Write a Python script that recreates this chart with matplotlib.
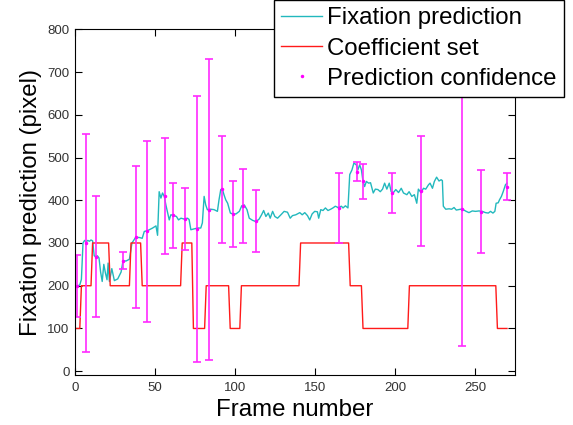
import numpy as np
import matplotlib.pyplot as plt

plt.rcParams["font.family"] = ["Liberation Sans", "DejaVu Sans"]

# Coefficient set in use per frame, stored as (level, number of frames) runs
coef_levels = [100, 200, 300, 200, 300, 200, 300, 100, 200, 100, 200, 300, 200, 100, 200, 100]
coef_runs = [3, 7, 11, 13, 7, 25, 7, 8, 15, 7, 37, 31, 8, 29, 55, 7]

# Fixation prediction
fix_frames = [
    1, 2, 3, 4, 5, 6, 7, 8, 9, 10, 11, 12, 13, 14, 15, 16, 17, 18, 19, 20,
    20.7, 21.5, 23, 24.6, 26.7, 28.8, 30, 32, 34, 35.6, 37.7, 40, 42, 43.3,
    45.4, 48.5, 50.6, 51.6, 52.6, 53.7, 54.7, 55.8, 56.8, 58.9, 59.9, 62,
    63.4, 64.7, 66.2, 68.2, 70.3, 71.3, 72.4, 74.5, 76.5, 78.6, 79.6, 80.7,
    81.7, 82.7, 84.9, 86.9, 89, 90, 91.1, 92.1, 93.1, 94.2, 95.4, 97.1, 98.6,
    100.6, 102.7, 104.2, 105.8, 107.5, 108.9, 111, 113.1, 115.1, 116.6,
    117.9, 119.3, 120.8, 122, 123.5, 124.9, 126.6, 128.7, 130.7, 132.8,
    134.5, 135.9, 138, 139, 140.5, 142, 143.6, 145.3, 146.7, 148.2, 149.8,
    151.5, 152.3, 153.6, 155, 156.5, 158.1, 159.8, 161.2, 162.7, 164.4,
    166.5, 167.5, 169, 170.6, 171.7, 173.1, 174.3, 175.8, 176.8, 177.9, 179,
    180, 181, 182.1, 183.5, 184.7, 186.4, 187.7, 189.3, 190.8, 192.2, 193.5,
    194.9, 196.4, 197.6, 199, 200.5, 202.2, 203.9, 205.3, 207.4, 208.8,
    210.5, 212.1, 213.6, 214.6, 216.3, 217.8, 219.2, 220.9, 221.9, 223.4,
    224.6, 226, 227.5, 228.8, 229.6, 230.2, 231.7, 233.8, 235.4, 236.9,
    238.3, 241, 243.1, 244.5, 246.2, 248.3, 250.3, 252.5, 254.5, 256.6,
    258.3, 259.7, 261.2, 262.4, 263.2, 264.5, 265.3, 266.5, 267.6, 269, 270,
]
fix_values = [
    200, 200, 202, 215, 300, 306, 303, 306, 304, 307, 305, 270, 268, 270, 265,
    232, 210, 250, 230, 214, 253, 210, 240, 212, 216, 232, 258, 258, 262, 300,
    312, 313, 311, 327, 329, 335, 340, 318, 420, 405, 417, 409, 389, 354, 366,
    364, 362, 354, 358, 356, 358, 355, 331, 333, 335, 335, 347, 409, 389, 378,
    379, 378, 374, 401, 425, 426, 413, 401, 393, 370, 368, 368, 374, 387, 389,
    378, 358, 353, 350, 356, 366, 376, 362, 370, 358, 374, 362, 358, 366, 374,
    372, 358, 364, 366, 368, 371, 366, 371, 364, 354, 368, 374, 373, 358, 378,
    376, 382, 376, 379, 382, 386, 383, 386, 382, 387, 382, 460, 471, 487, 483,
    471, 483, 471, 444, 432, 444, 440, 441, 417, 426, 425, 420, 426, 440, 426,
    440, 420, 418, 425, 418, 428, 417, 413, 420, 409, 413, 393, 426, 418, 428,
    426, 436, 440, 428, 444, 454, 445, 448, 446, 386, 379, 380, 379, 383, 377,
    379, 377, 374, 371, 375, 374, 375, 374, 371, 370, 374, 370, 374, 393, 394,
    401, 409, 420, 436, 440,
]

# Prediction confidence: centre and half-width of each error bar
conf_frames = [1, 7, 13, 30, 38, 45, 56, 61, 69, 76, 84, 92, 99, 105, 113,
               165, 176, 180, 198, 216, 242, 254, 270]
conf_center = [200, 301, 268, 259, 313, 327, 410, 365, 356, 333, 378, 426, 368,
               387, 351, 382, 467, 444, 417, 421, 379, 373, 432]
conf_err = [73, 255, 141, 21, 166, 211, 136, 76, 73, 311, 352, 125, 77, 86, 73,
            81, 23, 41, 47, 129, 319, 97, 31]


def main():
    coef = np.repeat(coef_levels, coef_runs)
    frames = np.arange(1, len(coef) + 1)

    fig = plt.figure(figsize=(5.73, 4.25), dpi=100)
    ax = fig.add_axes([0.1309, 0.1165, 0.7679, 0.8146])

    ax.plot(fix_frames, fix_values, color="#22b8bd", lw=1, label="Fixation prediction")
    ax.plot(frames, coef, color="#ff1a1a", lw=1, label="Coefficient set")
    ax.errorbar(
        conf_frames, conf_center, yerr=conf_err, fmt="none",
        ecolor="#ff2aff", elinewidth=1.2, capsize=3.2, capthick=1.2,
    )
    ax.plot(conf_frames, conf_center, ".", color="#ff00ff", ms=3,
            label="Prediction confidence")

    ax.set_xlim(0, 275)
    ax.set_ylim(-10, 800)
    ax.set_xticks(range(0, 251, 50))
    ax.set_yticks(range(0, 801, 100))
    ax.tick_params(direction="in", top=True, right=True, length=5,
                   labelsize=9.5, labelcolor="#333333")
    ax.tick_params(axis="x", pad=5)
    ax.tick_params(axis="y", pad=4)

    ax.set_xlabel("Frame number", fontsize=17.3, labelpad=3)
    ax.set_ylabel("Fixation prediction (pixel)", fontsize=17.3, labelpad=4)

    fig.legend(
        loc="upper right", bbox_to_anchor=(0.9843, 1.0), borderaxespad=0,
        fancybox=False, edgecolor="black", framealpha=1, fontsize=17.3,
        handlelength=1.7, handletextpad=0.2, labelspacing=0.34, borderpad=0.31,
        numpoints=1,
    )

    fig.savefig("out.png", dpi=100)


if __name__ == "__main__":
    main()
